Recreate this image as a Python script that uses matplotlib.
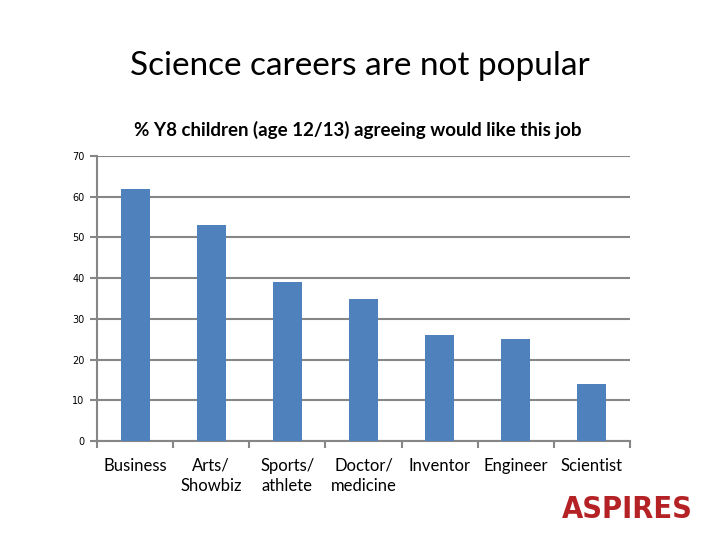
import matplotlib.pyplot as plt
import numpy as np

categories = ["Business", "Arts/\nShowbiz", "Sports/\nathlete", "Doctor/\nmedicine",
              "Inventor", "Engineer", "Scientist"]
values = [62, 53, 39, 35, 26, 25, 14]
yticks = [0, 10, 20, 30, 40, 50, 60, 70]

grid_col = "#868686"
bar_col = "#4F81BD"

fig = plt.figure(figsize=(7.2, 5.4), dpi=100)
ax = fig.add_axes([0.1347, 0.1833, 0.7403, 0.5278])

x = np.arange(len(categories))
ax.bar(x, values, width=0.38, color=bar_col, zorder=3)

ax.set_xlim(-0.5, len(categories) - 0.5)
ax.set_ylim(0, 70)
ax.set_yticks(yticks)
ax.set_yticklabels([str(t) for t in yticks], fontsize=7, family="DejaVu Sans")
ax.yaxis.grid(True, color=grid_col, linewidth=1.5, zorder=0)

# category ticks sit between the bars
ax.set_xticks(np.arange(len(categories) + 1) - 0.5)
ax.set_xticklabels([])
ax.set_xticks(x, minor=True)
ax.set_xticklabels(categories, minor=True, fontsize=12, family="Lato",
                   linespacing=1.3, va="top")
ax.tick_params(axis="x", which="minor", length=0, pad=12)
ax.tick_params(axis="x", which="major", length=5, width=1.5, color=grid_col)
ax.tick_params(axis="y", length=5, width=1.5, color=grid_col, pad=4)

for side in ["top", "right"]:
    ax.spines[side].set_visible(False)
for side in ["left", "bottom"]:
    ax.spines[side].set_color(grid_col)
    ax.spines[side].set_linewidth(1.5)

fig.text(0.5, 0.878, "Science careers are not popular", ha="center", va="center",
         fontsize=24, family="Lato")
fig.text(0.497, 0.759, "% Y8 children (age 12/13) agreeing would like this job",
         ha="center", va="center", fontsize=13.5, fontweight="bold", family="Lato")

fig.text(0.871, 0.056, "ASPIRES", ha="center", va="center", fontsize=22,
         fontweight="bold", fontstretch="condensed", color="#B52226",
         family="DejaVu Sans")

fig.savefig("out.png", dpi=100)
